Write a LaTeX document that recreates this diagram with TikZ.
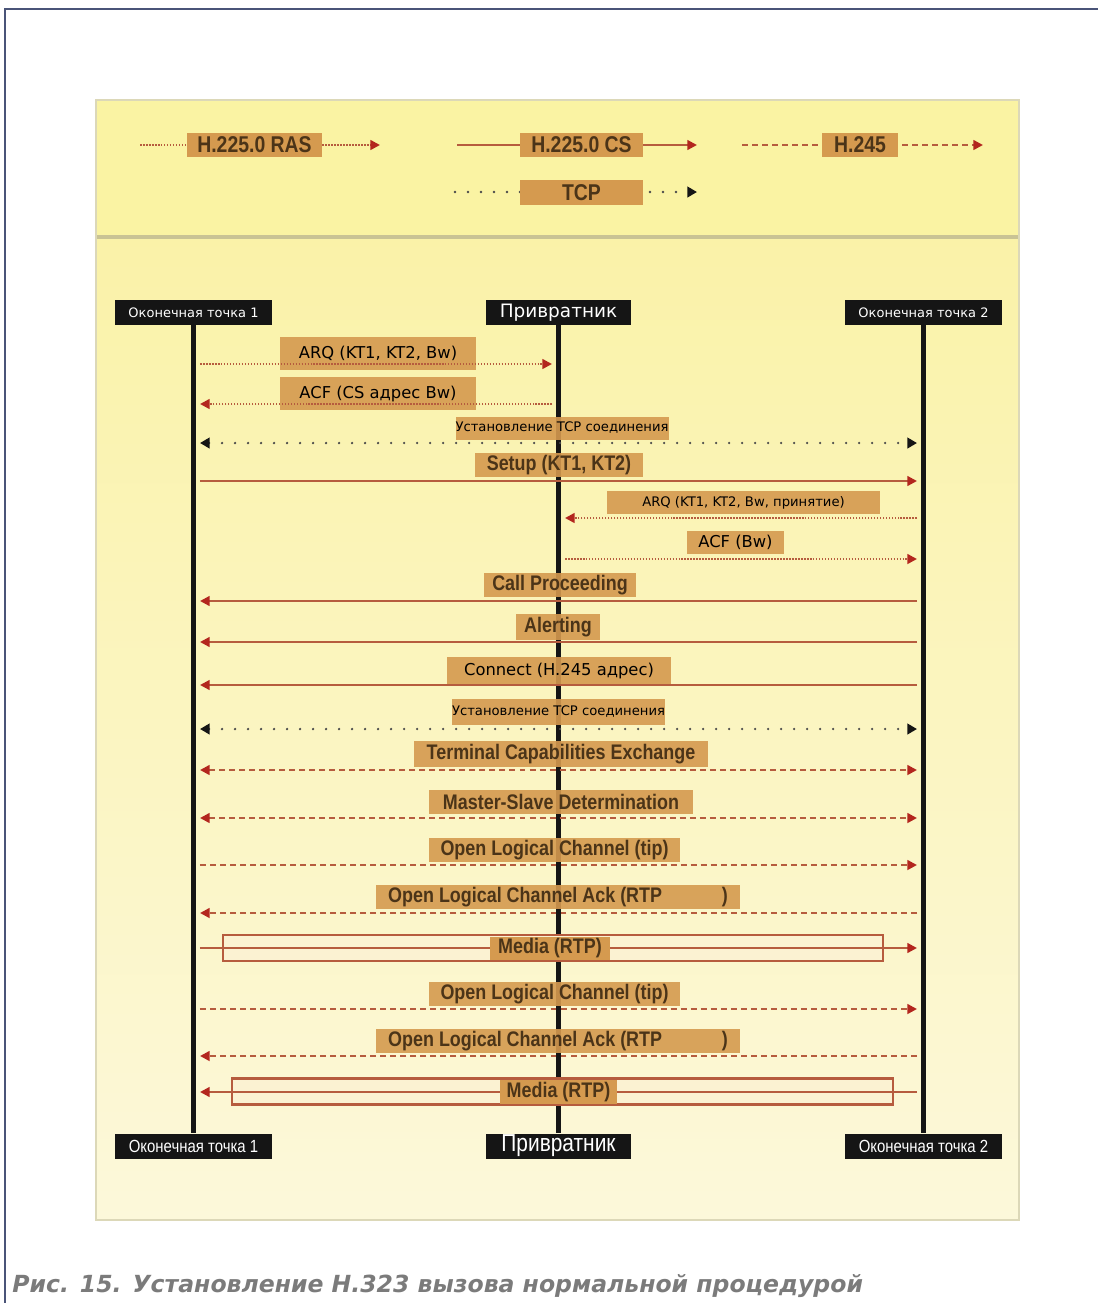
\documentclass[tikz,border=0pt]{standalone}
\usepackage{fontspec}
\setmainfont{DejaVu Sans}
\newfontfamily\condfont[FakeStretch=0.85]{Liberation Sans}
\usetikzlibrary{arrows.meta,positioning}
\definecolor{legendyellow}{HTML}{FAF3A3}
\definecolor{paneltop}{HTML}{FAF2A8}
\definecolor{panelbottom}{HTML}{FCF8DA}
\definecolor{panelrim}{HTML}{DCD8B8}
\definecolor{sepline}{HTML}{C9C394}
\definecolor{labeltan}{HTML}{D59A4F}
\definecolor{labelink}{HTML}{4B3418}
\definecolor{msgline}{HTML}{B65C3E}
\definecolor{tipred}{HTML}{B3261E}
\definecolor{tcpgrey}{HTML}{4A4A4A}
\definecolor{pipefill}{HTML}{FBF2D2}
\definecolor{headblack}{HTML}{151515}
\definecolor{framegrey}{HTML}{4A5478}
\definecolor{captiongrey}{HTML}{7B7B7B}

\begin{document}
\begin{tikzpicture}[x=0.02cm,y=-0.02cm,
  >={Triangle[length=5.5pt,width=5.5pt,color=tipred]},
  head/.style={fill=headblack,text=white,minimum width=31.4mm,minimum height=5mm,
              inner sep=0pt,font=\fontsize{7.4}{8}\selectfont},
  foot/.style={head,font=\condfont\fontsize{10}{11}\selectfont},
  lbl/.style={fill=labeltan,fill opacity=0.9,text opacity=1,inner sep=0pt,text=black,
              font=\fontsize{9.3}{10}\selectfont},
  slbl/.style={lbl,font=\fontsize{7.5}{8}\selectfont},
  clbl/.style={lbl,text=labelink,font=\condfont\bfseries\fontsize{12}{13}\selectfont},
  key/.style={clbl,fill opacity=1,font=\condfont\bfseries\fontsize{13}{14}\selectfont,minimum height=4.8mm},
  life/.style={headblack,line width=2.3pt},
  msg/.style={msgline,shorten <=1.3mm,shorten >=1.3mm},
  ras/.style={msg,line width=1.6pt,dash pattern=on 0.9pt off 0.8pt},
  cs/.style={msg,line width=1.3pt},
  hcs/.style={msg,line width=1.6pt,dash pattern=on 3.4pt off 2.3pt},
  tcp/.style={msg,tcpgrey,line width=1.5pt,line cap=round,dash pattern=on 0pt off 7.4pt,
              >={Triangle[length=5.5pt,width=6pt,color=headblack]}},
  pipe/.style={draw=msgline,fill=pipefill,line width=1.2pt,inner sep=0pt,minimum height=5.2mm}]

  % frame and panel
  \useasboundingbox (0,0) rectangle (1098,1303);
  \draw[framegrey,line width=1.2pt] (5,1303) -- (5,9) -- (1098,9);
  \shade[top color=paneltop,bottom color=panelbottom] (96,237) rectangle (1019,1220);
  \fill[legendyellow] (96,100) rectangle (1019,237);
  \draw[panelrim,line width=1.5pt] (96,100) rectangle (1019,1220);
  \draw[sepline,line width=2.5pt] (97,237) -- (1018,237);

  % legend
  \coordinate (rasL) at (140,145);  \coordinate (rasR) at (380,145);
  \coordinate (csL) at (457,145);   \coordinate (csR) at (697,145);
  \coordinate (hL) at (742,145);    \coordinate (hR) at (983,145);
  \coordinate (tcpL) at (455,192);  \coordinate (tcpR) at (697,192);
  \draw[ras,shorten <=0pt,shorten >=0pt,->] (rasL) -- (rasR);
  \draw[cs,shorten <=0pt,shorten >=0pt,->] (csL) -- (csR);
  \draw[hcs,shorten <=0pt,shorten >=0pt,->] (hL) -- (hR);
  \draw[tcp,shorten <=0pt,shorten >=0pt,->] (tcpL) -- (tcpR);
  \node[key,minimum width=27mm] (kRAS) at (254.5,145) {H.225.0 RAS};
  \node[key,minimum width=24.6mm] (kCS) at (581.5,145) {H.225.0 CS};
  \node[key,minimum width=15.2mm] (kH) at (860,145) {H.245};
  \node[key,minimum width=24.6mm,minimum height=5mm] (kTCP) at (581.5,192.5) {TCP};

  % participants
  \node[head] (ep1) at (193.5,312.5) {Оконечная точка 1};
  \node[head,minimum width=29mm,font=\fontsize{10.5}{12}\selectfont] (gk) at (558.5,312.5) {Привратник};
  \node[head] (ep2) at (923.5,312.5) {Оконечная точка 2};
  \node[foot] (ep1b) at (193.5,1146) {Оконечная точка 1};
  \node[foot,minimum width=29mm,font=\condfont\fontsize{14}{15}\selectfont] (gkb) at (558.5,1146) {Привратник};
  \node[foot] (ep2b) at (923.5,1146) {Оконечная точка 2};

  % lifelines
  \draw[life] (ep1.south) -- (ep1b.north);
  \draw[life] (gk.south) -- (gkb.north);
  \draw[life] (ep2.south) -- (ep2b.north);

  % message rows
  \coordinate (r1) at (0,364);   \coordinate (r2) at (0,404);
  \coordinate (r3) at (0,443);   \coordinate (r4) at (0,481);
  \coordinate (r5) at (0,518);   \coordinate (r6) at (0,559);
  \coordinate (r7) at (0,601);   \coordinate (r8) at (0,642);
  \coordinate (r9) at (0,685);   \coordinate (r10) at (0,729);
  \coordinate (r11) at (0,770);  \coordinate (r12) at (0,818);
  \coordinate (r13) at (0,865);  \coordinate (r14) at (0,913);
  \coordinate (r15) at (0,948);  \coordinate (r16) at (0,1009);
  \coordinate (r17) at (0,1056); \coordinate (r18) at (0,1092);

  % message labels
  \node[lbl,minimum width=39.2mm,minimum height=6.6mm] (mARQ) at (378,353.5) {ARQ (KT1, KT2, Bw)};
  \node[lbl,minimum width=39.2mm,minimum height=6.6mm] (mACF) at (378,393.5) {ACF (CS адрес Bw)};
  \node[slbl,minimum width=42mm,minimum height=4.6mm] (mTCPa) at (562,428) {Установление TCP соединения};
  \node[clbl,minimum width=33.6mm,minimum height=4.8mm] (mSetup) at (559,465) {Setup (KT1, KT2)};
  \node[slbl,minimum width=54.6mm,minimum height=4.6mm] (mARQb) at (743.5,502.5) {ARQ (KT1, KT2, Bw, принятие)};
  \node[lbl,minimum width=19.4mm,minimum height=4.6mm] (mACFb) at (735.5,542.5) {ACF (Bw)};
  \node[clbl,minimum width=30.4mm,minimum height=4.8mm] (mProc) at (560,585) {Call Proceeding};
  \node[clbl,minimum width=16.8mm,minimum height=5.2mm] (mAlert) at (558,627) {Alerting};
  \node[lbl,minimum width=44.8mm,minimum height=5.4mm] (mConn) at (559,670.5) {Connect (H.245 адрес)};
  \node[slbl,minimum width=42.2mm,minimum height=5.2mm] (mTCPb) at (558.5,712) {Установление TCP соединения};
  \node[clbl,minimum width=58.8mm,minimum height=5.2mm] (mTCE) at (561,754) {Terminal Capabilities Exchange};
  \node[clbl,minimum width=52.8mm,minimum height=4.8mm] (mMSD) at (561,802) {Master-Slave Determination};
  \node[clbl,minimum width=50.2mm,minimum height=4.8mm] (mOLCa) at (554.5,850) {Open Logical Channel (tip)};
  \node[clbl,minimum width=72.8mm,minimum height=4.8mm] (mAcka) at (558,897) {Open Logical Channel Ack (RTP\hspace{34pt})};
  \node[pipe,minimum width=132mm] (pipeA) at (553,948) {};
  \draw[cs,->] (ep1 |- r15) -- (ep2 |- r15);
  \node[clbl,fill opacity=1,minimum width=24mm,minimum height=4.6mm] (mMediaA) at (550,948.5) {Media (RTP)};
  \node[clbl,minimum width=50.2mm,minimum height=4.8mm] (mOLCb) at (554.5,994) {Open Logical Channel (tip)};
  \node[clbl,minimum width=72.8mm,minimum height=4.8mm] (mAckb) at (558,1041) {Open Logical Channel Ack (RTP\hspace{34pt})};
  \node[pipe,minimum width=132.2mm] (pipeB) at (562.5,1091.5) {};
  \draw[cs,->] (ep2 |- r18) -- (ep1 |- r18);
  \node[clbl,fill opacity=1,minimum width=23.4mm,minimum height=4.8mm] (mMediaB) at (558.5,1092) {Media (RTP)};

  % messages
  \draw[ras,->] (ep1 |- r1) -- (gk |- r1);
  \draw[ras,->] (gk |- r2) -- (ep1 |- r2);
  \draw[tcp,<->] (ep1 |- r3) -- (ep2 |- r3);
  \draw[cs,->] (ep1 |- r4) -- (ep2 |- r4);
  \draw[ras,->] (ep2 |- r5) -- (gk |- r5);
  \draw[ras,->] (gk |- r6) -- (ep2 |- r6);
  \draw[cs,->] (ep2 |- r7) -- (ep1 |- r7);
  \draw[cs,->] (ep2 |- r8) -- (ep1 |- r8);
  \draw[cs,->] (ep2 |- r9) -- (ep1 |- r9);
  \draw[tcp,<->] (ep1 |- r10) -- (ep2 |- r10);
  \draw[hcs,<->] (ep1 |- r11) -- (ep2 |- r11);
  \draw[hcs,<->] (ep1 |- r12) -- (ep2 |- r12);
  \draw[hcs,->] (ep1 |- r13) -- (ep2 |- r13);
  \draw[hcs,->] (ep2 |- r14) -- (ep1 |- r14);
  \draw[hcs,->] (ep1 |- r16) -- (ep2 |- r16);
  \draw[hcs,->] (ep2 |- r17) -- (ep1 |- r17);

  % caption
  \node[anchor=west,inner sep=0pt,text=captiongrey,font=\bfseries\itshape\fontsize{13.4}{15}\selectfont]
    (caption) at (12,1286) {Рис. 15. Установление H.323 вызова нормальной процедурой};
\end{tikzpicture}
\end{document}
